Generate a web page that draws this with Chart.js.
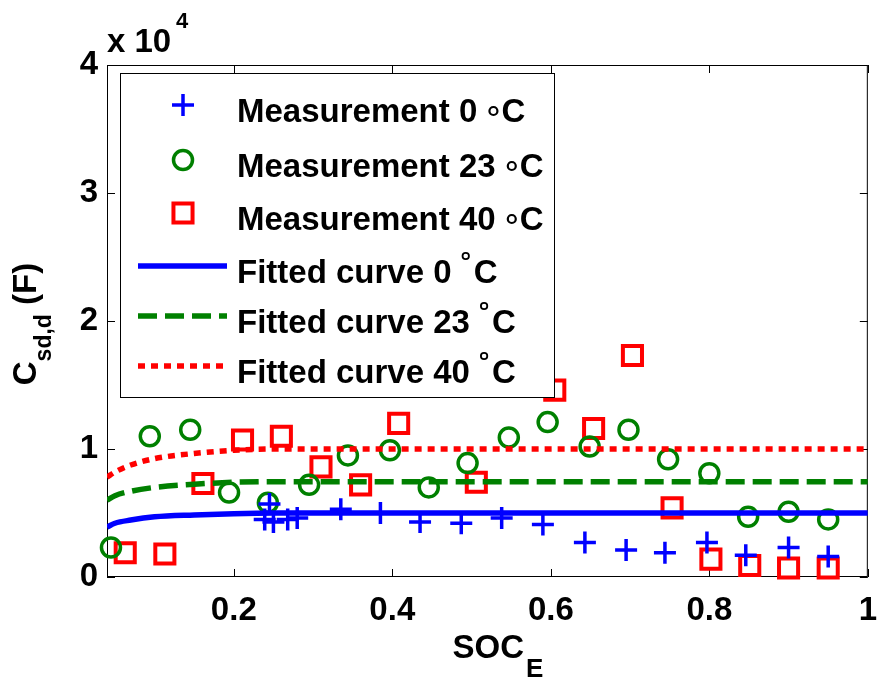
<!DOCTYPE html>
<html><head><meta charset="utf-8">
<script src="https://cdn.jsdelivr.net/npm/chart.js@4/dist/chart.umd.min.js"></script>
<style>html,body{margin:0;padding:0;background:#fff}canvas{display:block}</style>
</head><body>
<canvas id="c" width="891" height="679"></canvas>
<script>
// ---- data (capacitance in units of 1e4 F) ----
const socMeas0 = [0.239,0.245,0.25,0.268,0.28,0.335,0.385,0.435,0.487,0.538,0.59,0.643,0.695,0.744,0.797,0.846,0.9,0.95];
const capMeas0 = [0.45,0.57,0.43,0.45,0.46,0.53,0.50,0.43,0.42,0.46,0.41,0.27,0.21,0.19,0.27,0.17,0.23,0.16];
const socMeas23 = [0.045,0.094,0.145,0.194,0.243,0.295,0.344,0.397,0.446,0.495,0.547,0.596,0.649,0.698,0.748,0.8,0.849,0.9,0.95];
const capMeas23 = [0.23,1.10,1.15,0.66,0.58,0.72,0.95,0.99,0.70,0.89,1.09,1.21,1.02,1.15,0.92,0.81,0.47,0.51,0.45];
const socMeas40 = [0.063,0.113,0.161,0.211,0.26,0.31,0.36,0.408,0.506,0.605,0.654,0.703,0.753,0.802,0.851,0.9,0.95];
const capMeas40 = [0.19,0.18,0.73,1.07,1.10,0.86,0.72,1.20,0.74,1.46,1.16,1.73,0.54,0.14,0.09,0.07,0.07];
const socFit = [0.04,0.05,0.07,0.1,0.15,0.2,0.25,0.3,0.5,0.75,1.0];
const capFit0 = [0.39,0.42,0.445,0.47,0.485,0.495,0.5,0.5,0.5,0.5,0.5];
const capFit23 = [0.60,0.635,0.67,0.70,0.725,0.74,0.745,0.745,0.745,0.745,0.745];
const capFit40 = [0.78,0.82,0.875,0.925,0.965,0.99,1.0,1.0,1.0,1.0,1.0];
const xTickValues = [0.2,0.4,0.6,0.8,1];
const xTickLabels = ['0.2','0.4','0.6','0.8','1'];
const yTickValues = [0,1,2,3,4];
const yTickLabels = ['0','1','2','3','4'];
const legendNames = ['Measurement 0','Measurement 23','Measurement 40','Fitted curve 0','Fitted curve 23','Fitted curve 40'];

const pts = (xs, ys) => xs.map((v, i) => ({x: v, y: ys[i]}));
const FONT = 'Liberation Sans, Arial, sans-serif';

const datasets = [
  {label: legendNames[0], degStyle: 'mid', data: pts(socMeas0, capMeas0), showLine: false, pointStyle: 'cross', pointRadius: 11, borderColor: '#0000ff', backgroundColor: '#0000ff', pointBorderWidth: 3.5, order: 2, clip: false},
  {label: legendNames[1], degStyle: 'mid', data: pts(socMeas23, capMeas23), showLine: false, pointStyle: 'circle', pointRadius: 9.5, borderColor: '#008000', backgroundColor: 'rgba(0,0,0,0)', pointBorderWidth: 3.5, order: 2, clip: false},
  {label: legendNames[2], degStyle: 'mid', data: pts(socMeas40, capMeas40), showLine: false, pointStyle: 'rect', pointRadius: 13.5, borderColor: '#ff0000', backgroundColor: 'rgba(0,0,0,0)', pointBorderWidth: 4, order: 2, clip: false},
  {label: legendNames[3], degStyle: 'high', data: pts(socFit, capFit0), showLine: true, pointRadius: 0, borderColor: '#0000ff', borderWidth: 5.5, cubicInterpolationMode: 'monotone', order: 1},
  {label: legendNames[4], degStyle: 'high', data: pts(socFit, capFit23), showLine: true, pointRadius: 0, borderColor: '#008000', borderWidth: 5.5, borderDash: [19, 8], cubicInterpolationMode: 'monotone', order: 1},
  {label: legendNames[5], degStyle: 'high', data: pts(socFit, capFit40), showLine: true, pointRadius: 0, borderColor: '#ff0000', borderWidth: 5.5, borderDash: [7, 6], cubicInterpolationMode: 'monotone', order: 1}
];

const framePlugin = {
  id: 'frame',
  beforeDatasetsDraw(chart) {
    const {ctx, chartArea: a, scales: {x, y}} = chart;
    ctx.save();
    ctx.strokeStyle = '#000'; ctx.lineWidth = 1;
    ctx.strokeRect(a.left + 0.5, a.top + 0.5, a.right - a.left - 1, a.bottom - a.top - 1);
    const tl = 8;
    ctx.beginPath();
    xTickValues.forEach(v => {
      const px = Math.round(x.getPixelForValue(v)) + 0.5;
      ctx.moveTo(px, a.bottom); ctx.lineTo(px, a.bottom - tl);
      ctx.moveTo(px, a.top); ctx.lineTo(px, a.top + tl);
    });
    yTickValues.forEach(v => {
      const py = Math.round(y.getPixelForValue(v)) + 0.5;
      ctx.moveTo(a.left, py); ctx.lineTo(a.left + tl, py);
      ctx.moveTo(a.right, py); ctx.lineTo(a.right - tl, py);
    });
    ctx.stroke();
    ctx.restore();
  },
  afterDraw(chart) {
    const {ctx} = chart;
    ctx.save();
    ctx.fillStyle = '#000';
    ctx.textBaseline = 'alphabetic'; ctx.textAlign = 'left';
    // exponent label
    ctx.font = 'bold 33px ' + FONT;
    ctx.fillText('x 10', 107, 52);
    ctx.font = 'bold 22px ' + FONT;
    ctx.fillText('4', 176, 28);
    // x title
    ctx.font = 'bold 33px ' + FONT;
    const w1 = ctx.measureText('SOC').width;
    ctx.font = 'bold 26px ' + FONT;
    const w2 = ctx.measureText('E').width;
    const sx = 498 - (w1 + w2 + 2) / 2;
    ctx.font = 'bold 33px ' + FONT;
    ctx.fillText('SOC', sx, 658);
    ctx.font = 'bold 26px ' + FONT;
    ctx.fillText('E', sx + w1 + 2, 677);
    // y title (rotated)
    ctx.save();
    ctx.translate(36, 324);
    ctx.rotate(-Math.PI / 2);
    ctx.font = 'bold 33px ' + FONT;
    const c1 = ctx.measureText('C').width;
    const c3 = ctx.measureText(' (F)').width;
    ctx.font = 'bold 23px ' + FONT;
    const c2 = ctx.measureText('sd,d').width;
    const tx = -(c1 + c2 + c3) / 2;
    ctx.font = 'bold 33px ' + FONT;
    ctx.fillText('C', tx, 0);
    ctx.font = 'bold 23px ' + FONT;
    ctx.fillText('sd,d', tx + c1, 15);
    ctx.font = 'bold 33px ' + FONT;
    ctx.fillText(' (F)', tx + c1 + c2, 0);
    ctx.restore();

    // legend box
    const bx = 120, by = 73, bw = 434, bh = 324;
    ctx.fillStyle = '#fff';
    ctx.fillRect(bx, by, bw, bh);
    ctx.strokeStyle = '#000'; ctx.lineWidth = 1;
    ctx.strokeRect(bx + 0.5, by + 0.5, bw, bh);
    const rows = [105, 160, 213, 266, 316, 366];
    chart.data.datasets.forEach((d, i) => {
      const cy = rows[i];
      ctx.save();
      if (d.showLine) {
        ctx.strokeStyle = d.borderColor; ctx.lineWidth = d.borderWidth;
        ctx.setLineDash(d.borderDash || []);
        ctx.beginPath(); ctx.moveTo(138, cy); ctx.lineTo(227, cy); ctx.stroke();
      } else {
        ctx.strokeStyle = d.borderColor; ctx.fillStyle = d.backgroundColor;
        ctx.lineWidth = d.pointBorderWidth;
        Chart.helpers.drawPoint(ctx, {pointStyle: d.pointStyle, rotation: 0, radius: d.pointRadius, borderWidth: d.pointBorderWidth}, 183, cy);
      }
      ctx.restore();
      const base = cy + 17;
      ctx.fillStyle = '#000';
      ctx.font = 'bold 33px ' + FONT;
      ctx.textAlign = 'left'; ctx.textBaseline = 'alphabetic';
      const t = d.label + ' ';
      ctx.fillText(t, 237, base);
      let xx = 237 + ctx.measureText(t).width;
      ctx.strokeStyle = '#000';
      if (d.degStyle === 'mid') {
        ctx.lineWidth = 2.2;
        ctx.beginPath(); ctx.arc(xx + 7, base - 11, 4, 0, Math.PI * 2); ctx.stroke();
        xx += 15;
      } else {
        ctx.lineWidth = 1.8;
        ctx.beginPath(); ctx.arc(xx + 5, base - 27, 3.2, 0, Math.PI * 2); ctx.stroke();
        xx += 13;
      }
      ctx.fillText('C', xx, base);
    });
    ctx.restore();
  }
};

new Chart(document.getElementById('c'), {
  type: 'scatter',
  data: {datasets},
  options: {
    responsive: false,
    animation: false,
    devicePixelRatio: 1,
    layout: {padding: {top: 65, right: 2, left: 0, bottom: 0}},
    plugins: {legend: {display: false}, tooltip: {enabled: false}},
    scales: {
      x: {
        type: 'linear', min: 0.04, max: 1,
        afterBuildTicks: s => { s.ticks = xTickValues.map(v => ({value: v})); },
        afterFit: s => { s.height = 102; },
        grid: {display: false, drawTicks: false},
        border: {display: false},
        ticks: {
          color: '#000', padding: 14,
          font: {family: FONT, size: 33, weight: 'bold'},
          callback: (v, i) => xTickLabels[i]
        }
      },
      y: {
        type: 'linear', min: 0, max: 4,
        afterBuildTicks: s => { s.ticks = yTickValues.map(v => ({value: v})); },
        afterFit: s => { s.width = 107; },
        grid: {display: false, drawTicks: false},
        border: {display: false},
        ticks: {
          color: '#000', padding: 9,
          font: {family: FONT, size: 33, weight: 'bold'},
          callback: (v, i) => yTickLabels[i]
        }
      }
    }
  },
  plugins: [framePlugin]
});
</script>
</body></html>
